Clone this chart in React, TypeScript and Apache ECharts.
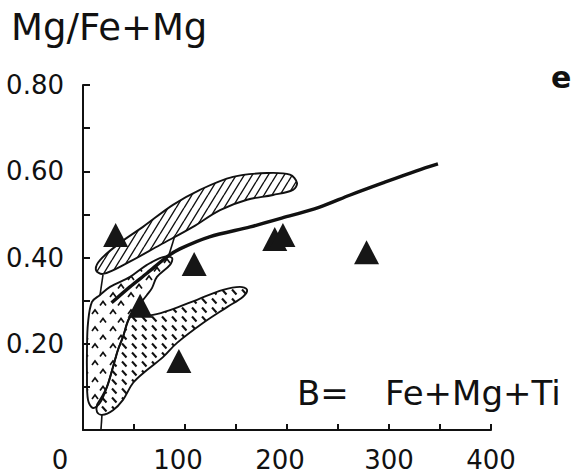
import React, { useEffect, useRef } from "react";
import * as echarts from "echarts";

// ---- data ----
const xLabelValues = [0, 100, 200, 300, 400];
const xTickLabels = ["0", "100", "200", "300", "400"];
const yLabelValues = [0.2, 0.4, 0.6, 0.8];
const yTickLabels = ["0.20", "0.40", "0.60", "0.80"];

const triangleX = [32, 109, 56, 94, 188, 196, 278];
const triangleY = [0.452, 0.385, 0.288, 0.16, 0.443, 0.452, 0.412];

const curveX = [28, 46, 63, 82, 95, 124, 164, 193, 232, 262, 294, 327, 348];
const curveY = [0.295, 0.332, 0.364, 0.401, 0.42, 0.448, 0.471, 0.49, 0.517, 0.545, 0.573, 0.601, 0.617];

// diagonally hatched field
const fieldAX = [12.7, 19.6, 43.1, 75.5, 107.8, 134.3, 160.8, 186.3, 205.9, 209.8, 202.9, 180.4, 147.1, 114.7, 88.2, 58.8, 36.3, 16.7];
const fieldAY = [0.371, 0.362, 0.387, 0.429, 0.471, 0.51, 0.534, 0.545, 0.557, 0.573, 0.592, 0.596, 0.587, 0.557, 0.522, 0.471, 0.434, 0.394];

// caret-filled field
const fieldBX = [16.7, 26.5, 46.1, 62.7, 78.4, 87.3, 85.3, 72.5, 67.6, 62.7, 46.1, 39.2, 34.3, 29.4, 23.5, 16.7, 9.8, 4.9, 3.9, 3.9, 4.9, 8.8];
const fieldBY = [0.313, 0.332, 0.355, 0.383, 0.401, 0.399, 0.383, 0.355, 0.329, 0.313, 0.262, 0.216, 0.186, 0.146, 0.1, 0.063, 0.051, 0.07, 0.128, 0.186, 0.248, 0.297];

// dash-filled field
const fieldCX = [68.6, 85.3, 111.8, 137.3, 153.9, 160.8, 156.9, 141.2, 117.6, 92.2, 78.4, 62.7, 49.0, 39.2, 29.4, 18.6, 13.7, 13.7, 16.7, 23.5, 29.4, 34.3, 39.2, 46.1, 55.9];
const fieldCY = [0.267, 0.278, 0.302, 0.325, 0.332, 0.325, 0.309, 0.285, 0.248, 0.202, 0.169, 0.139, 0.109, 0.07, 0.046, 0.035, 0.042, 0.058, 0.07, 0.1, 0.146, 0.186, 0.216, 0.262, 0.265];

// thin connecting strokes
const link1X = [19.6, 16.7];
const link1Y = [0.36, 0.313];
const link2X = [90, 84];
const link2Y = [0.45, 0.404];
const stemX = [18.6, 17.6];
const stemY = [0.035, 0.0];

const FONT = "DejaVu Sans";
const INK = "#111";

function svgPattern(body: string, w: number, h: number) {
  const svg = `<svg xmlns="http://www.w3.org/2000/svg" width="${w}" height="${h}">${body}</svg>`;
  return {
    image: "data:image/svg+xml;base64," + btoa(svg),
    repeat: "repeat",
    imageWidth: w,
    imageHeight: h,
  };
}

const hatchA = svgPattern(
  `<path d="M-8,13 L0,0 M0,13 L8,0 M8,13 L16,0" stroke="#111" stroke-width="1.4" fill="none"/>`,
  8,
  13
);
const caretB = svgPattern(
  `<path d="M2,8 L5,4 L8,8 M10,16.5 L13,12.5 L16,16.5" stroke="#111" stroke-width="1.7" fill="none"/>`,
  18,
  17
);
const dashC = svgPattern(
  `<path d="M2,1.5 L6.5,6.5" stroke="#111" stroke-width="2.1" fill="none"/>`,
  10,
  9
);

function fieldSeries(xs: number[], ys: number[], fill: any) {
  return {
    type: "custom",
    coordinateSystem: "cartesian2d",
    silent: true,
    z: 2,
    data: [[xs[0], ys[0]]],
    renderItem: (_p: any, api: any) => ({
      type: "polygon",
      shape: { points: xs.map((x, i) => api.coord([x, ys[i]])), smooth: 0.35 },
      style: { fill, stroke: INK, lineWidth: 1.9 },
    }),
  };
}

function thinLine(xs: number[], ys: number[]) {
  return {
    type: "line",
    data: xs.map((x, i) => [x, ys[i]]),
    showSymbol: false,
    silent: true,
    z: 3,
    lineStyle: { color: INK, width: 1.6 },
  };
}

export default function App() {
  const ref = useRef<HTMLDivElement>(null);
  useEffect(() => {
    if (!ref.current) return;
    const chart = echarts.init(ref.current, undefined, { renderer: "svg" });
    chart.setOption({
      animation: false,
      backgroundColor: "#fff",
      grid: { left: 83, right: 80, top: 85, bottom: 45 },
      xAxis: {
        type: "value",
        min: 0,
        max: 400,
        interval: 50,
        splitLine: { show: false },
        axisLine: { show: true, lineStyle: { color: INK, width: 2 } },
        axisTick: { show: true, inside: true, length: 6, lineStyle: { color: INK, width: 2 } },
        axisLabel: {
          margin: 17,
          color: INK,
          fontFamily: FONT,
          fontSize: 26,
          formatter: (v: number) => {
            const i = xLabelValues.indexOf(Math.round(v));
            if (i < 0) return "";
            if (i === 0) return "{a|" + xTickLabels[i] + "}";
            if (i === 1 || i === 2) return "{b|" + xTickLabels[i] + "}";
            return xTickLabels[i];
          },
          rich: {
            a: { fontFamily: FONT, fontSize: 26, color: INK, padding: [0, 46, 0, 0] },
            b: { fontFamily: FONT, fontSize: 26, color: INK, padding: [0, 14, 0, 0] },
          },
        },
      },
      yAxis: {
        type: "value",
        min: 0,
        max: 0.8,
        interval: 0.1,
        splitLine: { show: false },
        axisLine: { show: true, lineStyle: { color: INK, width: 2 } },
        axisTick: { show: true, inside: true, length: 7, lineStyle: { color: INK, width: 2 } },
        axisLabel: {
          margin: 19,
          color: INK,
          fontFamily: FONT,
          fontSize: 26,
          formatter: (v: number) => {
            const i = yLabelValues.indexOf(Math.round(v * 10) / 10);
            return i >= 0 ? yTickLabels[i] : "";
          },
        },
      },
      graphic: [
        {
          type: "text",
          left: 11,
          top: 9,
          style: { text: "Mg/Fe+Mg", font: `37px "${FONT}"`, fill: INK },
        },
        {
          type: "text",
          x: 551,
          y: 77,
          style: { text: "e", font: `bold 30px "${FONT}"`, fill: INK, textVerticalAlign: "middle" },
        },
        {
          type: "text",
          x: 297,
          y: 393,
          style: { text: "B=", font: `34px "${FONT}"`, fill: INK, textVerticalAlign: "middle" },
        },
        {
          type: "text",
          x: 385,
          y: 393,
          style: { text: "Fe+Mg+Ti", font: `34px "${FONT}"`, fill: INK, textVerticalAlign: "middle" },
        },
      ],
      series: [
        fieldSeries(fieldAX, fieldAY, hatchA),
        fieldSeries(fieldCX, fieldCY, dashC),
        fieldSeries(fieldBX, fieldBY, caretB),
        thinLine(link1X, link1Y),
        thinLine(link2X, link2Y),
        thinLine(stemX, stemY),
        {
          type: "line",
          data: curveX.map((x, i) => [x, curveY[i]]),
          smooth: 0.3,
          showSymbol: false,
          silent: true,
          z: 4,
          lineStyle: { color: INK, width: 3.4 },
        },
        {
          type: "scatter",
          data: triangleX.map((x, i) => [x, triangleY[i]]),
          symbol: "triangle",
          symbolSize: [25, 24],
          silent: true,
          z: 5,
          itemStyle: { color: "#161616", opacity: 1 },
        },
      ],
    });
    return () => chart.dispose();
  }, []);
  return <div ref={ref} style={{ position: "absolute", left: 0, top: 0, width: 571, height: 475 }} />;
}
